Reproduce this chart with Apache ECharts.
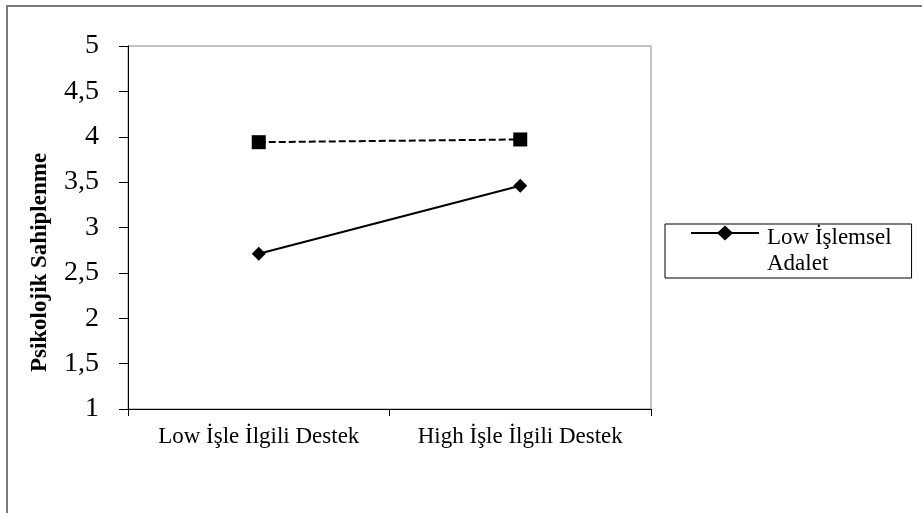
<!DOCTYPE html>
<html>
<head>
<meta charset="utf-8">
<script src="https://cdn.jsdelivr.net/npm/echarts@6/dist/echarts.min.js"></script>
<style>
html,body{margin:0;padding:0;background:#fff;}
#frame{position:absolute;left:6px;top:5px;width:916px;height:508px;border-top:2px solid #7a7a7a;border-left:2px solid #7a7a7a;box-sizing:border-box;}
#chart{position:absolute;left:0;top:0;width:922px;height:513px;}
</style>
</head>
<body>
<div id="frame"></div>
<div id="chart"></div>
<script>
const categories = ['Low İşle İlgili Destek', 'High İşle İlgili Destek'];
const yTicks = ['1', '1,5', '2', '2,5', '3', '3,5', '4', '4,5', '5'];
const lowIslemsel = [2.71, 3.46];
const highIslemsel = [3.94, 3.97];
const seriesNames = ['Low İşlemsel Adalet', 'High İşlemsel Adalet'];
const yAxisTitle = 'Psikolojik Sahiplenme';

const chart = echarts.init(document.getElementById('chart'), null, {renderer: 'canvas'});
const serif = 'Liberation Serif, Times New Roman, serif';
chart.setOption({
  animation: false,
  backgroundColor: 'transparent',
  grid: {left: 128, top: 46, width: 523, height: 363, show: true, borderColor: '#888', borderWidth: 1, backgroundColor: 'transparent'},
  legend: {
    data: [seriesNames[0]],
    left: 665, top: 224,
    orient: 'vertical',
    borderColor: '#000', borderWidth: 1,
    padding: [1, 20, 1, 26],
    itemWidth: 68, itemHeight: 52,
    itemGap: 0,
    icon: 'path://M0,7 L27,7 L34,0.5 L41,7 L68,7 L68,9 L41,9 L34,15.5 L27,9 L0,9 Z M0,52 M68,0',
    formatter: () => 'Low İşlemsel\nAdalet',
    textStyle: {fontFamily: serif, fontSize: 23, color: '#000', lineHeight: 26, padding: [0,0,0,3]}
  },
  xAxis: {
    type: 'category', data: categories, boundaryGap: true,
    axisLine: {lineStyle: {color: '#000', width: 1}},
    axisTick: {show: true, interval: 0, length: 7, lineStyle: {color: '#000'}},
    axisLabel: {interval: 0, hideOverlap: false, fontFamily: serif, fontSize: 23, color: '#000', margin: 16},
    splitLine: {show: false}
  },
  yAxis: {
    type: 'value', min: 1, max: 5, interval: 0.5,
    name: yAxisTitle, nameLocation: 'middle', nameGap: 76, nameRotate: 90,
    nameTextStyle: {fontFamily: serif, fontSize: 23, fontWeight: 'bold', color: '#000', padding: [0, 70, 0, 0]},
    axisLine: {show: true, lineStyle: {color: '#000', width: 1}},
    axisTick: {show: true, length: 9, lineStyle: {color: '#000'}},
    axisLabel: {fontFamily: serif, fontSize: 28, color: '#000', margin: 29,
      formatter: v => yTicks[Math.round((v - 1) / 0.5)]},
    splitLine: {show: false}
  },
  series: [
    {name: seriesNames[0], type: 'line', data: lowIslemsel, symbol: 'diamond', symbolSize: 14,
      lineStyle: {color: '#000', width: 2}, itemStyle: {color: '#000'}},
    {name: seriesNames[1], type: 'line', data: highIslemsel, symbol: 'rect', symbolSize: 14,
      lineStyle: {color: '#000', width: 2, type: [7, 3]}, itemStyle: {color: '#000'}}
  ]
});
</script>
</body>
</html>
